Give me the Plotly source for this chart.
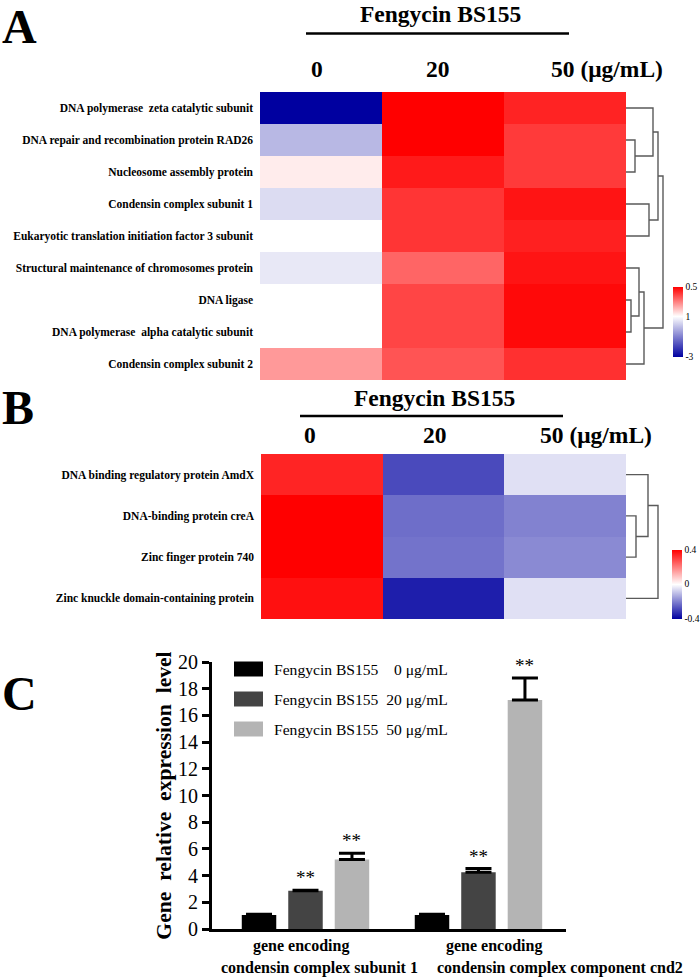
import plotly.graph_objects as go

W, H = 700, 978
SERIF = "Liberation Serif, Times New Roman, serif"

# ---------------- data ----------------
treatment = "Fengycin BS155"
conc_labels = ["0", "20", "50 (μg/mL)"]

genes_a = [
    "DNA polymerase  zeta catalytic subunit",
    "DNA repair and recombination protein RAD26",
    "Nucleosome assembly protein",
    "Condensin complex subunit 1",
    "Eukaryotic translation initiation factor 3 subunit",
    "Structural maintenance of chromosomes protein",
    "DNA ligase",
    "DNA polymerase  alpha catalytic subunit",
    "Condensin complex subunit 2",
]
expr_a_0 = [-3.0, -0.12, 1.22, 0.45, 1.0, 0.64, 1.0, 1.0, 2.16]
expr_a_20 = [3.9, 3.9, 3.61, 3.30, 3.30, 2.75, 3.12, 3.12, 2.95]
expr_a_50 = [3.50, 3.24, 3.24, 3.67, 3.54, 3.67, 3.80, 3.80, 3.35]
cbar_a_vals = [3.89, 1.0, -2.99]
cbar_a_text = ["0.5", "1", "-3"]
# linkage: (left, right, height); new cluster ids continue after the leaves
link_a = [(1, 2, 9), (0, 9, 27), (3, 4, 23), (10, 11, 32),
          (6, 7, 5), (5, 13, 13), (14, 8, 18), (12, 15, 37)]

genes_b = [
    "DNA binding regulatory protein AmdX",
    "DNA-binding protein creA",
    "Zinc finger protein 740",
    "Zinc knuckle domain-containing protein",
]
expr_b_0 = [0.344, 0.40, 0.40, 0.375]
expr_b_20 = [-0.284, -0.228, -0.22, -0.353]
expr_b_50 = [-0.048, -0.196, -0.184, -0.048]
cbar_b_vals = [0.399, 0.0, -0.399]
cbar_b_text = ["0.4", "0", "-0.4"]
link_b = [(1, 2, 10), (0, 4, 22), (5, 3, 32)]

genes_c = ["condensin complex subunit 1", "condensin complex component cnd2"]
gene_prefix_c = "gene encoding"
series_c = ["Fengycin BS155\u00a0\u00a0\u00a0\u00a00 μg/mL",
            "Fengycin BS155\u00a0\u00a020 μg/mL",
            "Fengycin BS155\u00a0\u00a050 μg/mL"]
colors_c = ["#000000", "#444444", "#b4b4b4"]
vals_c = [[1.05, 1.05], [2.87, 4.25], [5.2, 17.15]]
errs_c = [[0.05, 0.05], [0.03, 0.28], [0.48, 1.65]]
sig_c = [["", ""], ["**", "**"], ["**", "**"]]
y_ticks_c = list(range(0, 21, 2))

# ---------------- helpers ----------------
def py(p):
    return 1 - p / H

def dendro_xy(link, n):
    pos = {i: (0.0, float(i)) for i in range(n)}
    xs, ys = [], []
    nid = n
    for a, b, h in link:
        xa, ya = pos[a]
        xb, yb = pos[b]
        xs += [xa, h, h, xb, None]
        ys += [ya, ya, yb, yb, None]
        pos[nid] = (h, (ya + yb) / 2)
        nid += 1
    return xs, ys

fig = go.Figure()

cbar_font = dict(family=SERIF, size=9.5, color="black")

# ---------------- heatmap A ----------------
z_a = [list(r) for r in zip(expr_a_0, expr_a_20, expr_a_50)]
fig.add_trace(go.Heatmap(
    z=z_a, x=[0, 1, 2], y=genes_a, xaxis="x", yaxis="y",
    zmin=-3, zmax=3.9,
    colorscale=[[0, "#0000a0"], [4 / 6.9, "#ffffff"], [1, "#ff0000"]],
    colorbar=dict(x=673 / W, xanchor="left", y=py(322), yanchor="middle",
                  len=70, lenmode="pixels", thickness=10, outlinewidth=0,
                  xpad=0, ypad=0, tickvals=cbar_a_vals, ticktext=cbar_a_text,
                  ticks="", tickprefix="<b>", ticksuffix="</b>", tickfont=cbar_font),
    hoverinfo="skip",
))
xs, ys = dendro_xy(link_a, len(genes_a))
fig.add_trace(go.Scatter(x=xs, y=ys, mode="lines", xaxis="x2", yaxis="y2",
                         line=dict(color="#5a5a5a", width=1.4), showlegend=False,
                         hoverinfo="skip"))

# ---------------- heatmap B ----------------
z_b = [list(r) for r in zip(expr_b_0, expr_b_20, expr_b_50)]
fig.add_trace(go.Heatmap(
    z=z_b, x=[0, 1, 2], y=genes_b, xaxis="x3", yaxis="y3",
    zmin=-0.4, zmax=0.4,
    colorscale=[[0, "#0000a0"], [0.5, "#ffffff"], [1, "#ff0000"]],
    colorbar=dict(x=672 / W, xanchor="left", y=py(584), yanchor="middle",
                  len=69, lenmode="pixels", thickness=10, outlinewidth=0,
                  xpad=0, ypad=0, tickvals=cbar_b_vals, ticktext=cbar_b_text,
                  ticks="", tickprefix="<b>", ticksuffix="</b>", tickfont=cbar_font),
    hoverinfo="skip",
))
xs, ys = dendro_xy(link_b, len(genes_b))
fig.add_trace(go.Scatter(x=xs, y=ys, mode="lines", xaxis="x4", yaxis="y4",
                         line=dict(color="#5a5a5a", width=1.4), showlegend=False,
                         hoverinfo="skip"))

# ---------------- bar chart C ----------------
BARGAP, GROUPGAP = 0.194, 0.258
for j, (name, col, v, e) in enumerate(zip(series_c, colors_c, vals_c, errs_c)):
    fig.add_trace(go.Bar(
        x=genes_c, y=v, name=name, marker=dict(color=col, line=dict(width=0)),
        error_y=dict(type="data", array=e, arrayminus=[0] * len(e), symmetric=False,
                     color="black", thickness=3, width=13),
        xaxis="x5", yaxis="y5", showlegend=False,
    ))

slot = (1 - BARGAP) / len(series_c)
annotations = []
for j in range(len(series_c)):
    for i in range(len(genes_c)):
        if sig_c[j][i]:
            annotations.append(dict(
                x=i + (j - (len(series_c) - 1) / 2) * slot, xref="x5",
                y=vals_c[j][i] + errs_c[j][i], yref="y5", yanchor="bottom",
                text=sig_c[j][i], showarrow=False, yshift=0,
                font=dict(family=SERIF, size=19, color="black")))

# category labels (two lines, placed as in the original)
label_shift = [(-4, 14), (16, 82)]
for i, g in enumerate(genes_c):
    for k, (txt, ly) in enumerate([(gene_prefix_c, 946), (g, 968)]):
        annotations.append(dict(
            x=i, xref="x5", y=py(ly), yref="paper", yanchor="middle",
            xshift=label_shift[i][k], text="<b>%s</b>" % txt, showarrow=False,
            font=dict(family=SERIF, size=16, color="black")))

# custom legend
shapes = []
for j, (name, col) in enumerate(zip(series_c, colors_c)):
    yc = 669 + 30 * j
    shapes.append(dict(type="rect", xref="paper", yref="paper",
                       x0=234 / W, x1=263 / W, y0=py(yc - 7.5), y1=py(yc + 7.5),
                       fillcolor=col, line=dict(width=0)))
    annotations.append(dict(x=272 / W, y=py(yc), xref="paper", yref="paper",
                            xanchor="left", yanchor="middle", showarrow=False,
                            text=name, font=dict(family=SERIF, size=15.6, color="black")))

# ---------------- headers / panel letters ----------------
def header(title_y, title_x, line_y, line_x0, line_x1, lab_y, xref, shifts):
    annotations.append(dict(x=title_x / W, y=py(title_y), xref="paper", yref="paper",
                            text="<b>%s</b>" % treatment, showarrow=False,
                            yanchor="middle",
                            font=dict(family=SERIF, size=23.5, color="black")))
    shapes.append(dict(type="line", xref="paper", yref="paper",
                       x0=line_x0 / W, x1=line_x1 / W, y0=py(line_y), y1=py(line_y),
                       line=dict(color="black", width=2.5)))
    for i, lab in enumerate(conc_labels):
        annotations.append(dict(
            x=i, xref=xref, y=py(lab_y), yref="paper", yanchor="middle",
            xanchor="left" if i == len(conc_labels) - 1 else "center",
            xshift=shifts[i], text="<b>%s</b>" % lab, showarrow=False,
            font=dict(family=SERIF, size=23.5, color="black")))

header(13.5, 440, 33.5, 306, 569, 69, "x", [-4, -5, -16])
header(398, 434, 416, 300, 563, 435, "x3", [-12, -9, -27])

for letter, ly in [("A", 26), ("B", 407), ("C", 693)]:
    annotations.append(dict(x=0, y=py(ly), xref="paper", yref="paper", xanchor="left",
                            yanchor="middle", text="<b>%s</b>" % letter, showarrow=False,
                            font=dict(family=SERIF, size=48, color="black")))

# ---------------- layout ----------------
rowfont = dict(family=SERIF, size=11.5, color="black")
ticklab = lambda s: dict(family=SERIF, size=s, color="black")
hidden = dict(visible=False, automargin=False, showgrid=False, zeroline=False)

fig.update_layout(
    template="none",
    width=W, height=H, margin=dict(l=0, r=0, t=0, b=0, pad=0),
    font=dict(family=SERIF, color="black"),
    paper_bgcolor="white", plot_bgcolor="white", showlegend=False,
    barmode="group", bargap=BARGAP, bargroupgap=GROUPGAP,
    annotations=annotations, shapes=shapes,
    xaxis=dict(domain=[260 / W, 626 / W], range=[-0.5, 2.5], anchor="y", **hidden),
    yaxis=dict(domain=[py(380), py(92)], autorange="reversed", anchor="x",
               automargin=False, ticks="", showline=False, showgrid=False,
               zeroline=False, tickfont=rowfont,
               ticklabelstandoff=6, tickprefix="<b>", ticksuffix="</b>"),
    xaxis2=dict(domain=[626 / W, 668 / W], range=[0, 42], anchor="y2", **hidden),
    yaxis2=dict(domain=[py(380), py(92)], range=[len(genes_a) - 0.5, -0.5],
                anchor="x2", **hidden),
    xaxis3=dict(domain=[261 / W, 626 / W], range=[-0.5, 2.5], anchor="y3", **hidden),
    yaxis3=dict(domain=[py(619), py(454)], autorange="reversed", anchor="x3",
                automargin=False, ticks="", showline=False, showgrid=False,
                zeroline=False, tickfont=rowfont,
                ticklabelstandoff=6, tickprefix="<b>", ticksuffix="</b>"),
    xaxis4=dict(domain=[626 / W, 668 / W], range=[0, 42], anchor="y4", **hidden),
    yaxis4=dict(domain=[py(619), py(454)], range=[len(genes_b) - 0.5, -0.5],
                anchor="x4", **hidden),
    xaxis5=dict(domain=[212 / W, 566 / W], range=[-0.5405, 1.506], anchor="y5",
                automargin=False, showline=True, linecolor="black", linewidth=3,
                ticks="", showticklabels=False, showgrid=False, zeroline=False),
    yaxis5=dict(domain=[py(929), py(662)], range=[0, 20], anchor="x5",
                automargin=False, tickvals=y_ticks_c, showline=True,
                linecolor="black", linewidth=3,
                ticks="outside", ticklen=7, tickwidth=2.5, tickcolor="black",
                showgrid=False, zeroline=False, tickfont=ticklab(20),
                tickprefix="<b>", ticksuffix="</b>",
                title=dict(text="<b>Gene\u00a0\u00a0relative\u00a0\u00a0expression\u00a0\u00a0level</b>",
                           font=ticklab(21.6), standoff=1)),
)

fig.write_html("out.html", config={"displayModeBar": False},
               post_script="document.body.style.margin='0';")
